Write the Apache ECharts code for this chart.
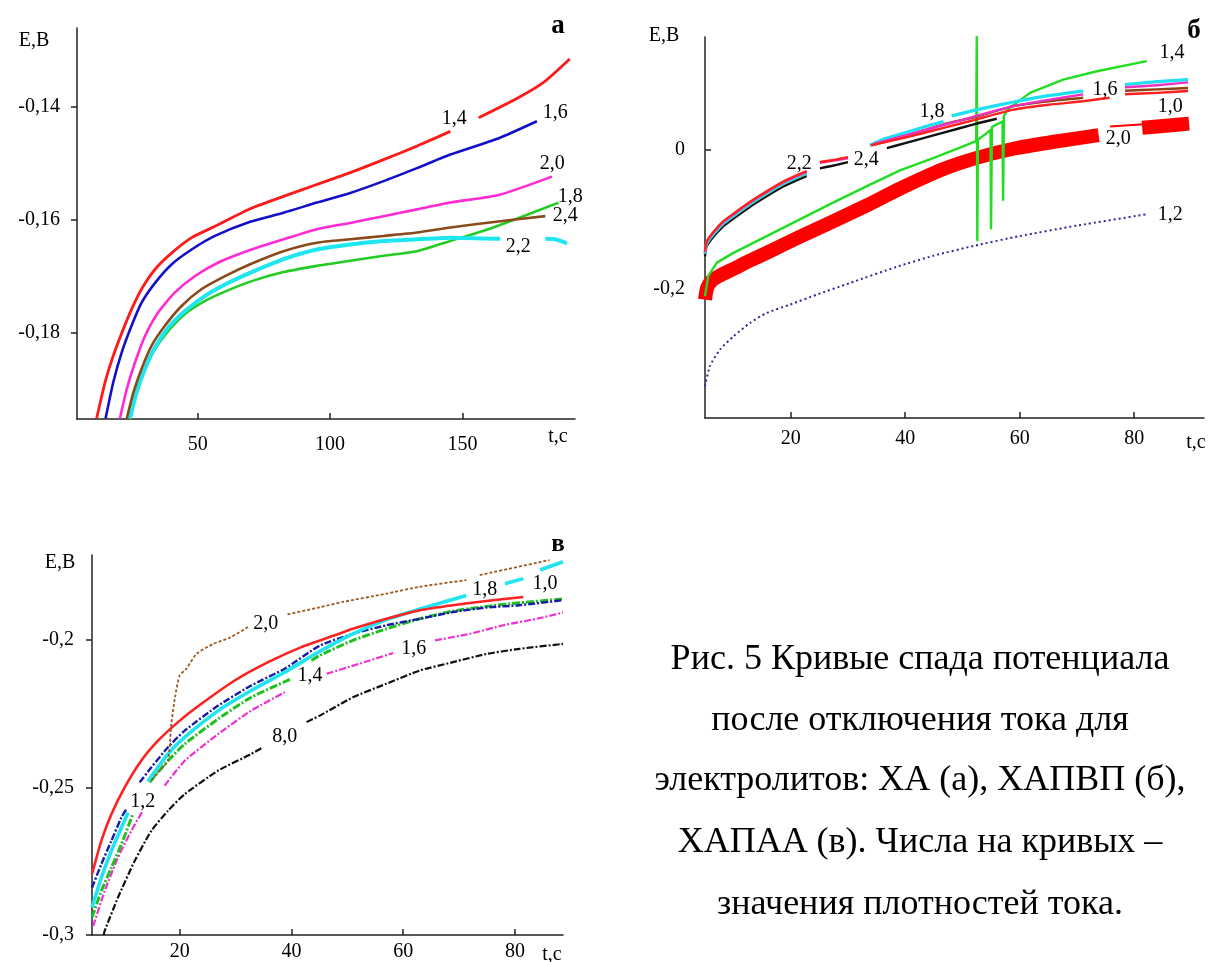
<!DOCTYPE html>
<html><head><meta charset="utf-8">
<script src="https://cdn.jsdelivr.net/npm/echarts@6/dist/echarts.min.js"></script>
<style>html,body{margin:0;padding:0;background:#fff}#c{width:1208px;height:962px}</style>
</head><body><div id="c"></div>
<script>
// ---------- Panel а (ХА) : t,c vs E,B ; each curve = list of segments ----------
const A_X_TICKS = [50, 100, 150];
const A_Y_TICKS = [-0.18, -0.16, -0.14];
const A_14 = [[[11.8,-0.1951],[15.0,-0.1887],[18.1,-0.1840],[21.3,-0.1800],[25.0,-0.1758],[28.8,-0.1722],[33.9,-0.1687],[40.2,-0.1658],[47.7,-0.1631],[56.5,-0.1611],[69.8,-0.1580],[82.4,-0.1558],[95.0,-0.1537],[107.6,-0.1516],[120.2,-0.1493],[132.8,-0.1469],[145.4,-0.1443]],
              [[156.1,-0.1419],[170.9,-0.1384],[181.0,-0.1355],[190.5,-0.1315]]];
const A_16 = [[[15.2,-0.1951],[18.1,-0.1887],[21.3,-0.1834],[25.0,-0.1787],[28.8,-0.1746],[33.9,-0.1711],[40.2,-0.1678],[47.7,-0.1652],[56.5,-0.1628],[69.8,-0.1603],[82.4,-0.1587],[95.0,-0.1569],[107.6,-0.1552],[120.2,-0.1531],[132.8,-0.1508],[145.4,-0.1484],[163.7,-0.1455],[178.1,-0.1425]]];
const A_20 = [[[20.6,-0.1951],[23.2,-0.1899],[26.3,-0.1852],[30.1,-0.1805],[35.1,-0.1763],[41.4,-0.1728],[49.0,-0.1699],[57.8,-0.1675],[69.8,-0.1653],[82.4,-0.1634],[95.0,-0.1616],[107.6,-0.1605],[120.2,-0.1593],[132.8,-0.1581],[145.4,-0.1569],[164.0,-0.1555],[183.8,-0.1523]]];
const A_24 = [[[23.2,-0.1951],[25.7,-0.1905],[28.8,-0.1863],[32.6,-0.1822],[37.6,-0.1787],[43.9,-0.1752],[51.5,-0.1722],[60.3,-0.1699],[69.8,-0.1678],[82.4,-0.1655],[95.0,-0.1640],[107.6,-0.1634],[120.2,-0.1628],[132.8,-0.1622],[145.4,-0.1613],[164.3,-0.1602],[181.3,-0.1593]]];
const A_22 = [[[24.4,-0.1951],[26.9,-0.1905],[30.1,-0.1863],[33.9,-0.1825],[38.9,-0.1790],[45.2,-0.1761],[52.8,-0.1734],[61.6,-0.1711],[70.4,-0.1692],[82.4,-0.1669],[95.0,-0.1652],[107.6,-0.1643],[120.2,-0.1637],[132.8,-0.1634],[145.4,-0.1631],[164.3,-0.1633]],
              [[181.3,-0.1633],[185.0,-0.1634],[189.5,-0.1641]]];
const A_18 = [[[23.8,-0.1951],[26.3,-0.1905],[29.5,-0.1869],[33.9,-0.1828],[38.9,-0.1796],[45.2,-0.1766],[52.8,-0.1743],[61.6,-0.1724],[70.4,-0.1708],[82.4,-0.1692],[95.0,-0.1681],[107.6,-0.1672],[120.2,-0.1663],[132.8,-0.1655],[145.4,-0.1637],[158.0,-0.1619],[172.0,-0.1595],[186.3,-0.1569]]];
const A_LABELS = [[146.9,-0.1420,'1,4'],[185.0,-0.1410,'1,6'],[183.9,-0.1500,'2,0'],[190.7,-0.1558,'1,8'],[188.8,-0.1592,'2,4'],[171.1,-0.1648,'2,2']];

// ---------- Panel б (ХАПВП) ----------
const B_X_TICKS = [20, 40, 60, 80];
const B_Y_TICKS = [-0.2, 0];
const B_12 = [[[5.03,-0.339],[5.9,-0.310],[7.65,-0.2865],[10.0,-0.2675],[12.9,-0.2483],[15.8,-0.234],[19.9,-0.222],[24.5,-0.208],[30.4,-0.191],[38.5,-0.168],[45,-0.152],[52,-0.138],[60,-0.124],[70,-0.109],[82,-0.093]]];
const B_20 = [[[5.03,-0.215],[5.4,-0.198],[6.2,-0.188],[7.5,-0.181],[10,-0.171],[12.9,-0.159],[15.8,-0.148],[21.6,-0.125],[27.4,-0.103],[33.3,-0.080],[39.1,-0.056],[46.7,-0.028],[52.5,-0.012],[58.9,0.001],[66,0.011],[73.8,0.0205]],
              [[81.4,0.031],[85.5,0.034],[89.6,0.037]]];
const B_20_THIN = [[[75.8,0.033],[81.6,0.036]]];
const B_14 = [[[5.03,-0.210],[5.6,-0.181],[7.1,-0.162],[10,-0.148],[15.8,-0.124],[21.6,-0.100],[27.4,-0.076],[33.3,-0.0525],[39.1,-0.030],[45,-0.012],[50,0.004],[52.4,0.012],[52.5,0.161],[52.6,-0.13],[52.7,0.014],[54,0.022],[54.9,0.028],[55.0,-0.113],[55.15,0.032],[56,0.036],[57.0,0.040],[57.1,-0.072],[57.25,0.048],[58,0.058],[61.8,0.081],[67.6,0.100],[73.5,0.112],[82.2,0.1265]]];
const B_24 = [[[5.03,-0.153],[5.3,-0.139],[6.5,-0.125],[8.2,-0.110],[10,-0.099],[12.9,-0.082],[15.8,-0.067],[18.7,-0.053],[21.6,-0.042],[22.8,-0.038]],
              [[25.1,-0.027],[27.5,-0.023],[30,-0.018]],
              [[36.8,0.002],[40,0.009],[46.7,0.024],[52,0.036],[56,0.044]]];
const B_16 = [[[5.03,-0.150],[5.3,-0.136],[6.5,-0.122],[8.2,-0.107],[10,-0.096],[12.9,-0.079],[15.8,-0.064],[18.7,-0.050],[21.6,-0.039],[22.8,-0.035]],
              [[34.2,0.006],[40,0.019],[46.7,0.036],[52,0.046],[58.9,0.062],[65,0.069],[71.1,0.074]],
              [[78.4,0.084],[84,0.086],[89.4,0.088]]];
const B_18 = [[[5.03,-0.149],[5.3,-0.135],[6.5,-0.121],[8.2,-0.106],[10,-0.095],[12.9,-0.078],[15.8,-0.063],[18.7,-0.049],[21.6,-0.038],[22.8,-0.034]],
              [[33.8,0.006],[36,0.014],[40,0.024],[44,0.034],[46.7,0.040]],
              [[48.1,0.048],[52,0.056],[58.9,0.068],[65,0.077],[71.1,0.0836]],
              [[78.4,0.093],[84,0.097],[89.4,0.100]]];
const B_22 = [[[5.03,-0.147],[5.3,-0.133],[6.5,-0.119],[8.2,-0.104],[10,-0.093],[12.9,-0.076],[15.8,-0.061],[18.7,-0.047],[21.6,-0.036],[22.8,-0.032]],
              [[25.1,-0.019],[27.5,-0.016],[30,-0.0125]],
              [[34.5,0.008],[40,0.020],[46.7,0.035],[52,0.047],[58.9,0.062],[65,0.071],[71.1,0.0788]],
              [[78.4,0.089],[84,0.092],[89.4,0.096]]];
const B_10 = [[[5.03,-0.146],[5.3,-0.132],[6.5,-0.118],[8.2,-0.103],[10,-0.092],[12.9,-0.075],[15.8,-0.060],[18.7,-0.046],[21.6,-0.035],[22.8,-0.031]],
              [[25.1,-0.018],[27.5,-0.015],[30,-0.011]],
              [[34.0,0.006],[40,0.017],[46.7,0.031],[52,0.042],[58.9,0.057],[65,0.064],[71.1,0.069],[75.7,0.074]],
              [[78.4,0.079],[84,0.081],[89.4,0.0836]]];
const B_LABELS = [[86.6,0.139,'1,4'],[74.9,0.086,'1,6'],[86.3,0.0616,'1,0'],[44.7,0.0544,'1,8'],[77.2,0.0158,'2,0'],[21.5,-0.0209,'2,2'],[33.2,-0.0143,'2,4'],[86.3,-0.0931,'1,2']];

// ---------- Panel в (ХАПАА) ----------
const C_X_TICKS = [20, 40, 60, 80];
const C_Y_TICKS = [-0.3, -0.25, -0.2];
const C_10 = [[[4.3,-0.2794],[5.97,-0.2681],[7.77,-0.2591],[10.15,-0.25],[13.14,-0.2409],[16.12,-0.2342],[19.7,-0.2279],[23.88,-0.2217],[29.85,-0.2138],[35.82,-0.2076],[41.78,-0.2025],[47.75,-0.1985],[51,-0.1963],[57,-0.1929],[63,-0.1900],[68.9,-0.1883],[74.9,-0.1869],[81.5,-0.1855]]];
const C_18 = [[[4.3,-0.2907],[5.97,-0.2806],[7.77,-0.2715],[10.75,-0.2585]],
              [[14.3,-0.248],[17.9,-0.2387],[20.9,-0.233],[26.9,-0.224],[32.8,-0.2172],[38.8,-0.211],[45,-0.2040],[51,-0.1980],[57,-0.1932],[63,-0.1896],[71.3,-0.1850]],
              [[78.2,-0.181],[81.5,-0.1793]],
              [[84.5,-0.1764],[88.6,-0.1736]]];
const C_12 = [[[4.3,-0.284],[5.97,-0.276],[7.77,-0.2681],[9.56,-0.2602],[10.45,-0.2574]],
              [[12.84,-0.2483],[14.93,-0.2432],[17.9,-0.2364],[20.9,-0.2308],[26.9,-0.2223],[32.8,-0.2155],[38.8,-0.2098],[45.07,-0.2020],[51,-0.198],[57,-0.1951],[63,-0.1929],[68.9,-0.1906],[74.9,-0.1891],[80.8,-0.1883],[88.6,-0.1866]]];
const C_14 = [[[4.3,-0.2941],[5.97,-0.2851],[7.77,-0.2772],[9.56,-0.2693],[11.6,-0.2591]],
              [[14.6,-0.2483],[17.9,-0.241],[20.9,-0.2353],[26.9,-0.2268],[32.8,-0.2195],[40,-0.2132]],
              [[43.6,-0.207],[45.07,-0.2053],[51,-0.2002],[57,-0.1963],[63,-0.1929],[68.9,-0.1903],[74.9,-0.1887],[80.8,-0.1875],[88.6,-0.1862]]];
const C_16 = [[[4.5,-0.297],[6.57,-0.2851],[8.95,-0.2738],[11.35,-0.2647],[13.4,-0.2579]],
              [[17.3,-0.2494],[20.9,-0.241],[26.9,-0.2319],[32.8,-0.224],[38.8,-0.2178]],
              [[46.3,-0.2115],[52.2,-0.2081],[58.2,-0.2045]],
              [[65.7,-0.2002],[71.9,-0.198],[77.9,-0.1951],[83.9,-0.1929],[88.6,-0.1908]]];
const C_80 = [[[6.4,-0.3],[6.57,-0.2986],[8.95,-0.2873],[11.94,-0.2749],[14.93,-0.2647],[17.9,-0.2579],[20.9,-0.2523],[26.9,-0.2443],[32.8,-0.2387],[34.9,-0.2364]],
              [[42.7,-0.2279],[45.07,-0.2257],[51,-0.2195],[57,-0.2149],[63,-0.2104],[68.9,-0.2076],[74.9,-0.2048],[80.8,-0.2031],[88.6,-0.2014]]];
const C_20 = [[[14.9,-0.2477],[16.5,-0.2440],[17.9,-0.2410],[18.5,-0.2285],[19.2,-0.219],[20,-0.2121],[21.2,-0.2098],[23,-0.2048],[26,-0.2014],[29,-0.1993],[32.2,-0.1957]],
              [[39.3,-0.1914],[45.07,-0.1890],[49.2,-0.1872],[57,-0.1844],[62.8,-0.1821],[71.3,-0.1798]],
              [[73.7,-0.1781],[86.2,-0.1730]]];
const C_LABELS = [[35.4,-0.1947,'2,0'],[74.6,-0.1831,'1,8'],[85.4,-0.1811,'1,0'],[61.9,-0.2032,'1,6'],[43.3,-0.2123,'1,4'],[13.4,-0.2548,'1,2'],[38.8,-0.2330,'8,0']];

const CAPTION = ['Рис. 5 Кривые спада потенциала','после отключения тока для','электролитов: ХА (а), ХАПВП (б),','ХАПАА (в). Числа на кривых –','значения плотностей тока.'];

// ---------- build ----------
const FONT = 'Liberation Serif, Times New Roman, serif';
const fmt = v => (v === 0 ? '0' : String(v).replace('.', ','));
function xAxis(gi, min, max, ticks, margin) {
  return {type:'value', gridIndex:gi, min:min, max:max,
    axisLine:{show:true, onZero:false, lineStyle:{color:'#222', width:1.5}},
    axisTick:{show:true, inside:true, length:6, customValues:ticks, lineStyle:{color:'#222', width:1.5}},
    axisLabel:{customValues:ticks, fontFamily:FONT, fontSize:20, color:'#000', margin:margin, formatter:fmt},
    splitLine:{show:false}};
}
function yAxis(gi, min, max, ticks, inside, margin) {
  return {type:'value', gridIndex:gi, min:min, max:max,
    axisLine:{show:true, onZero:false, lineStyle:{color:'#222', width:1.5}},
    axisTick:{show:true, inside:inside, length:6, customValues:ticks, lineStyle:{color:'#222', width:1.5}},
    axisLabel:{customValues:ticks, fontFamily:FONT, fontSize:20, color:'#000', margin:margin, formatter:fmt},
    splitLine:{show:false}};
}
const series = [];
function curve(gi, segs, color, width, type, smooth) {
  segs.forEach(seg => series.push({type:'line', xAxisIndex:gi, yAxisIndex:gi, data:seg,
    symbol:'none', showSymbol:false, smooth:smooth === undefined ? 0.2 : smooth,
    lineStyle:{color:color, width:width, type:type || 'solid', cap:'butt', join:'round'}, silent:true, animation:false}));
}
function labels(gi, arr) {
  series.push({type:'scatter', xAxisIndex:gi, yAxisIndex:gi, symbolSize:0, silent:true, animation:false, z:10,
    data: arr.map(d => ({value:[d[0], d[1]], name:d[2]})),
    label:{show:true, position:'inside', formatter:p => p.name, fontFamily:FONT, fontSize:20, color:'#000', opacity:1}});
}
// panel а
curve(0, A_18, '#22cc22', 2.6);
curve(0, A_22, '#1ee6f0', 4);
curve(0, A_24, '#8b4a1a', 2.6);
curve(0, A_20, '#ff2ad4', 2.6);
curve(0, A_16, '#1010c8', 2.6);
curve(0, A_14, '#ff1a1a', 2.8);
labels(0, A_LABELS);
// panel б
curve(1, B_12, '#2a2a9a', 2, [2, 3]);
curve(1, B_20, '#ff0000', 14);
curve(1, B_20_THIN, '#ff0000', 2);
curve(1, B_14, '#22dd22', 2.4, 'solid', false);
curve(1, B_24, '#111111', 2.4);
curve(1, B_16, '#8b4513', 2.4);
curve(1, B_18, '#20e0f0', 3.2);
curve(1, B_22, '#f030c0', 2.4);
curve(1, B_10, '#ff2020', 2.4);
labels(1, B_LABELS);
// panel в
curve(2, C_80, '#111111', 2.2, [7, 2, 2, 2]);
curve(2, C_16, '#ee30d0', 2.2, [7, 2, 2, 2]);
curve(2, C_14, '#20c020', 3, [8, 2, 2, 2]);
curve(2, C_12, '#1a1aa8', 2.4, [7, 2, 2, 2]);
curve(2, C_18, '#20e5f0', 3.6);
curve(2, C_10, '#ff2020', 2.6);
curve(2, C_20, '#9a5a20', 1.8, [3, 2]);
labels(2, C_LABELS);

const txt = (x, y, s, size, bold, align) => ({type:'text', x:x, y:y, z:20, style:{text:s, fontFamily:FONT, fontSize:size, fontWeight:bold ? 'bold' : 'normal', fill:'#000', textAlign:align || 'center', textVerticalAlign:'middle'}});
const graphic = [
  txt(34, 41, 'E,B', 20), txt(558, 437, 't,c', 20), txt(558, 26, 'а', 27, true),
  txt(664, 36, 'E,B', 20), txt(1196, 443, 't,c', 20), txt(1194, 31, 'б', 27, true),
  txt(60, 563, 'E,B', 20), txt(552, 955, 't,c', 20), txt(558, 545, 'в', 25, true)
];
const capY = [660, 721, 781, 843, 905];
CAPTION.forEach((s, i) => graphic.push(txt(920, capY[i], s, 36)));

const chart = echarts.init(document.getElementById('c'), null, {renderer:'canvas'});
chart.setOption({
  animation:false, backgroundColor:'#fff',
  grid:[{left:77, top:28, width:498, height:391},
        {left:705, top:37, width:499, height:381},
        {left:92, top:555, width:471, height:382}],
  xAxis:[xAxis(0, 4.4, 192.5, A_X_TICKS, 16), xAxis(1, 5.03, 92.2, B_X_TICKS, 11), xAxis(2, 4.3, 88.6, C_X_TICKS, 7)],
  yAxis:[yAxis(0, -0.1952, -0.126, A_Y_TICKS, false, 17), yAxis(1, -0.3844, 0.161, B_Y_TICKS, true, 20), yAxis(2, -0.3, -0.1713, C_Y_TICKS, false, 18)],
  series:series, graphic:graphic
});
</script></body></html>
